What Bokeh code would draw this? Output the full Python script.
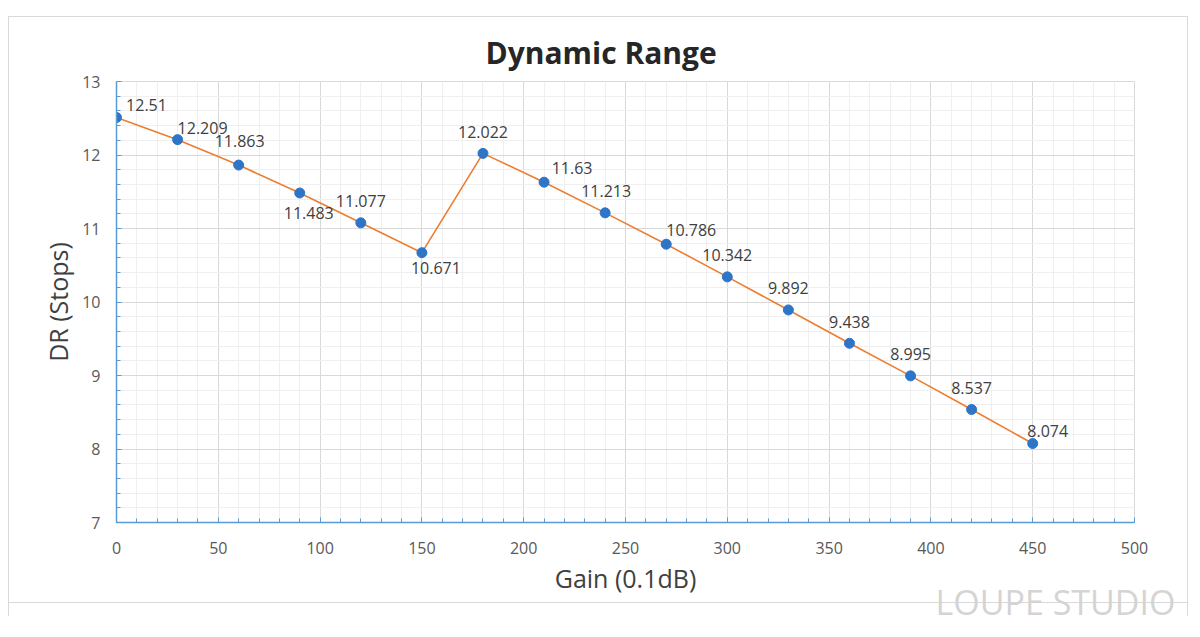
from bokeh.plotting import figure
from bokeh.models import ColumnDataSource, LabelSet, Title, SingleIntervalTicker, Range1d
from bokeh.core.properties import value
from bokeh.embed import file_html
from bokeh.resources import INLINE

# ---- data ----
gain = [0, 30, 60, 90, 120, 150, 180, 210, 240, 270, 300, 330, 360, 390, 420, 450]
dr = [12.51, 12.209, 11.863, 11.483, 11.077, 10.671, 12.022, 11.63, 11.213,
      10.786, 10.342, 9.892, 9.438, 8.995, 8.537, 8.074]
dr_text = ["12.51", "12.209", "11.863", "11.483", "11.077", "10.671", "12.022", "11.63",
           "11.213", "10.786", "10.342", "9.892", "9.438", "8.995", "8.537", "8.074"]

# label placement offsets in pixels (style only)
lab_dx = [30, 25, 1, 9, 0, 14, 0, 28, 1, 25, 0, 0, 0, 0, 0, 15]
lab_dy = [13, 12, 24, -20, 22, -15, 21, 14, 22, 14, 22, 22, 21, 22, 22, 13]

FONT = "Open Sans"
BLUE_AXIS = "#5b9bd5"

src = ColumnDataSource(dict(x=gain, y=dr, t=dr_text, dx=lab_dx, dy=lab_dy))

p = figure(width=1180, height=600, output_backend="svg", toolbar_location=None,
           x_range=Range1d(0, 500), y_range=Range1d(7, 13),
           min_border_left=107, min_border_right=55, min_border_top=64, min_border_bottom=95)
p.border_fill_color = None
p.background_fill_color = "#ffffff"
p.styles = {
    "margin-top": "16px",
    "margin-left": "8px",
    "border": "1px solid #d9d9d9",
    "border-bottom": "none",
    "background": "linear-gradient(#d9d9d9, #d9d9d9) 0 585px / 100% 1px no-repeat, #ffffff",
}

p.title.text = "Dynamic Range"
p.title.align = "left"
p.title.offset = 369
p.title.standoff = 17
p.title.text_font = FONT
p.title.text_font_size = "30px"
p.title.text_font_style = "bold"
p.title.text_color = "#262626"

p.xaxis.ticker = SingleIntervalTicker(interval=50, num_minor_ticks=5)
p.yaxis.ticker = SingleIntervalTicker(interval=1, num_minor_ticks=5)

for ax in (p.xaxis, p.yaxis):
    ax.axis_line_color = BLUE_AXIS
    ax.axis_line_width = 1.5
    ax.major_tick_line_color = BLUE_AXIS
    ax.minor_tick_line_color = BLUE_AXIS
    ax.major_tick_in = 5
    ax.major_tick_out = 0
    ax.minor_tick_in = 4
    ax.minor_tick_out = 0
    ax.major_label_text_font = FONT
    ax.major_label_text_font_size = "16px"
    ax.major_label_text_color = "#595959"
    ax.axis_label_text_font = FONT
    ax.axis_label_text_font_size = "25px"
    ax.axis_label_text_font_style = "normal"
    ax.axis_label_text_color = "#404040"

p.xaxis.axis_label = "Gain (0.1dB)"
p.yaxis.axis_label = "DR (Stops)"
p.xaxis.major_label_standoff = 19
p.yaxis.major_label_standoff = 16
p.xaxis.axis_label_standoff = 4
p.yaxis.axis_label_standoff = 4

p.xgrid.grid_line_color = "#d9d9d9"
p.ygrid.grid_line_color = "#d9d9d9"
p.xgrid.minor_grid_line_color = "#efefef"
p.ygrid.minor_grid_line_color = "#efefef"
p.outline_line_color = "#d9d9d9"

p.line("x", "y", source=src, line_color="#ed7d31", line_width=1.6)
p.scatter("x", "y", source=src, size=10, fill_color="#2e75c8", line_color="#2e75c8")

labels = LabelSet(x="x", y="y", text="t", source=src, x_offset="dx", y_offset="dy",
                  text_align="center", text_baseline="middle",
                  text_font=value(FONT), text_font_size=value("16px"), text_color="#404040")
p.add_layout(labels)

# watermark placed in the below panel (panels are not clipped to the frame)
wm = Title(text="LOUPE STUDIO", align="left", offset=819, standoff=-55,
           text_font=FONT, text_font_size="34px", text_font_style="normal",
           text_color="#d4d4d4")
p.add_layout(wm, "below")

open("out.html", "w").write(file_html(p, INLINE))
